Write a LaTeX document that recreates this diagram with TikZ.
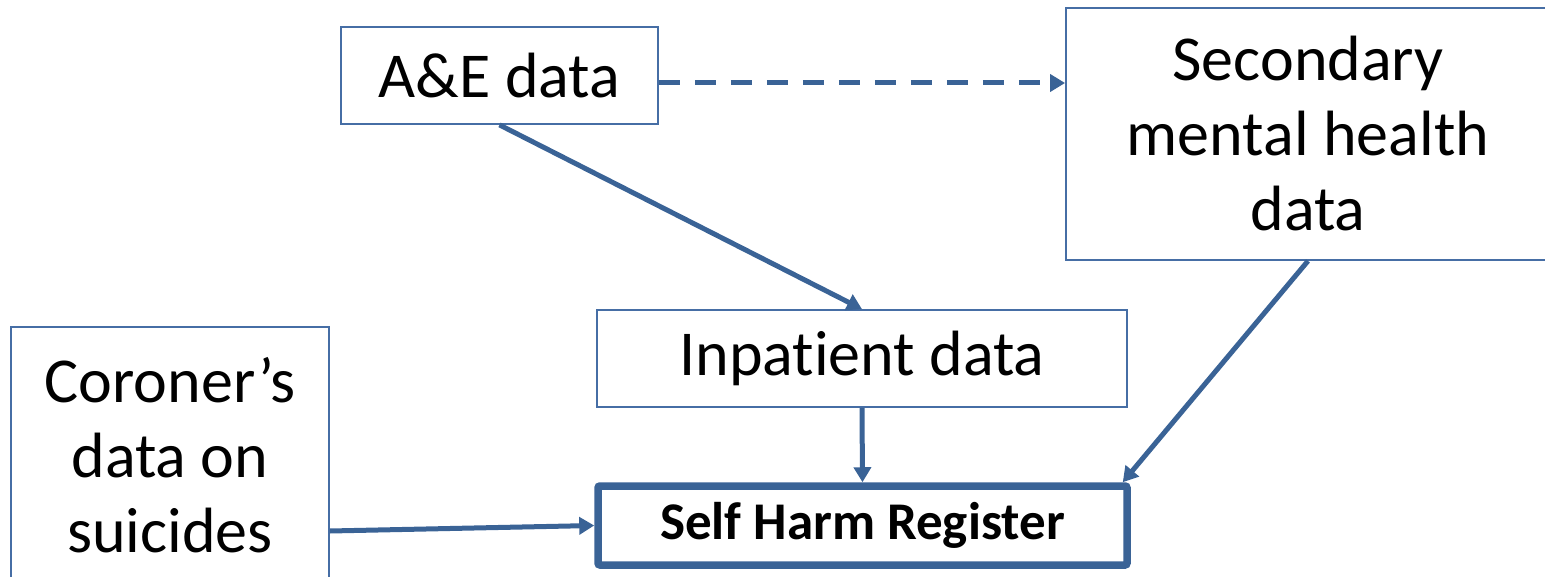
\documentclass[tikz,border=0pt]{standalone}
\usepackage{fontspec}
\setmainfont{Carlito}[Ligatures=NoCommon]
\usetikzlibrary{arrows.meta,calc}
\definecolor{linkblue}{RGB}{58,99,150}
\definecolor{boxblue}{RGB}{70,110,165}
\begin{document}
\begin{tikzpicture}[x=1pt,y=-1pt,
  box/.style={draw=boxblue,line width=1.8pt,inner sep=0pt,align=center,
    font=\fontsize{64}{75}\selectfont},
  regbox/.style={draw=linkblue,line width=7.5pt,rounded corners=2pt,inner sep=0pt,
    font=\bfseries\fontsize{53}{60}\selectfont},
  link/.style={draw=linkblue,line width=5pt,-{Triangle[length=15pt,width=17pt]}}]
\useasboundingbox (0,0) rectangle (1545,577);

% data sources
\node[box,minimum width=317pt,minimum height=97pt] (ae) at (499.5,75.5)
  {\raisebox{-2pt}{A\&E data}};
\node[box,minimum width=484pt,minimum height=252pt] (sec) at (1308,134)
  {Secondary\\mental health\\data};
\node[box,minimum width=530pt,minimum height=97pt] (inp) at (862,358.5)
  {\raisebox{-3pt}{Inpatient data}};
\node[box,minimum width=318pt,minimum height=256pt] (cor) at (170,455)
  {Coroner’s\\data on\\suicides};

% register
\node[regbox,minimum width=529pt,minimum height=79pt] (reg) at (862.5,525.5)
  {\raisebox{-4pt}{Self Harm Register}};

% connectors
\draw[link,dash pattern=on 21pt off 15pt] ($(ae.east)+(0,7.5)$) -- ($(sec.west)+(0,-51)$);
\draw[link] (ae.south) -- (inp.north);
\draw[link] (sec.south) -- ($(reg.north east)+(-8,0)$);
\draw[link] (inp.south) -- (reg.north);
\draw[link] ($(cor.east)+(0,76)$) -- (reg.west);
\end{tikzpicture}
\end{document}
